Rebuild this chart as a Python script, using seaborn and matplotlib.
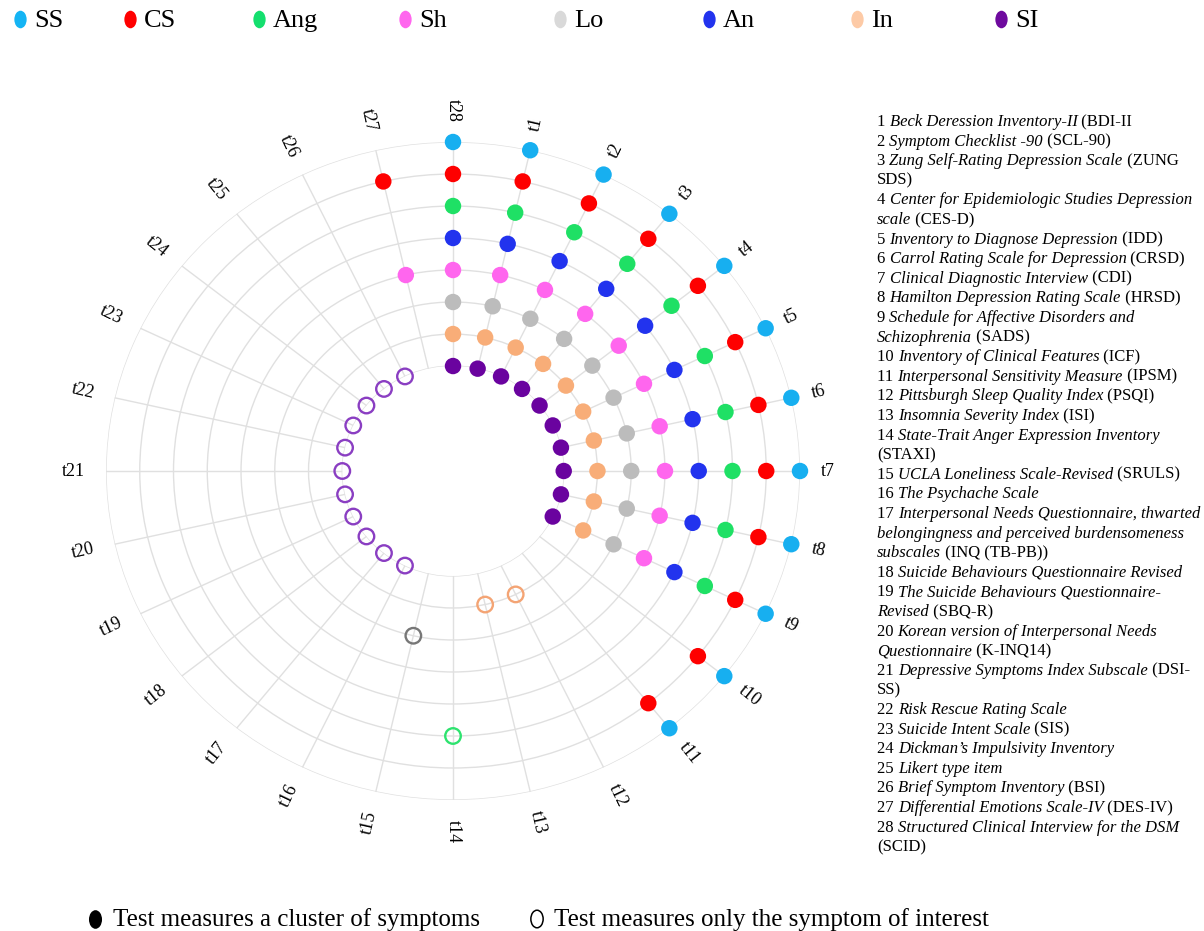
import numpy as np
import pandas as pd
import matplotlib
matplotlib.use('Agg')
import matplotlib.pyplot as plt
import seaborn as sns
from matplotlib.markers import MarkerStyle
from matplotlib.transforms import Affine2D

# ---- data ----
# symptom rings, inner -> outer (radius 1..8)
rings = ['SI', 'In', 'Lo', 'Sh', 'An', 'Ang', 'CS', 'SS']
legend_order = ['SS', 'CS', 'Ang', 'Sh', 'Lo', 'An', 'In', 'SI']

tests = ['t%d' % i for i in range(1, 29)]

# tests measuring a cluster of symptoms (filled dots)
all_eight_tests = ['t28', 't1', 't2', 't3', 't4', 't5', 't6', 't7', 't8', 't9']
ss_cs_tests = ['t10', 't11']
ss_cs_syms = ['SS', 'CS']
t27_syms = ['CS', 'Sh']

# tests measuring only the symptom of interest (open dots)
single_tests = ['t12', 't13', 't14', 't15', 't16', 't17', 't18', 't19', 't20',
                't21', 't22', 't23', 't24', 't25', 't26']
single_syms = ['In', 'In', 'Ang', 'Lo', 'SI', 'SI', 'SI', 'SI', 'SI',
               'SI', 'SI', 'SI', 'SI', 'SI', 'SI']

dot_colors = {'SS': '#17aff0', 'CS': '#fe0000', 'Ang': '#1fe065', 'An': '#2233ee',
              'Sh': '#ff66ee', 'Lo': '#bcbcbc', 'In': '#f8ad78', 'SI': '#6a039f'}
open_colors = {'Ang': '#2ee36f', 'Lo': '#777777', 'In': '#f4a474', 'SI': '#8a3ec2'}
legend_colors = {'SS': '#14b4f4', 'CS': '#ff0000', 'Ang': '#14df6e', 'Sh': '#ff66ee',
                 'Lo': '#d9d9d9', 'An': '#2233ee', 'In': '#fdcaa6', 'SI': '#6e0a9e'}
legend_x = [20, 130, 259, 405, 560, 709, 857, 1001]

measures = [
    "1 *Beck Deression Inventory-II* (BDI-II",
    "2 *Symptom Checklist -90* (SCL-90)",
    "3 *Zung Self-Rating Depression Scale* (ZUNG",
    "SDS)",
    "4 *Center for Epidemiologic Studies Depression*",
    "*scale* (CES-D)",
    "5 *Inventory to Diagnose Depression* (IDD)",
    "6 *Carrol Rating Scale for Depression* (CRSD)",
    "7 *Clinical Diagnostic Interview* (CDI)",
    "8 *Hamilton Depression Rating Scale* (HRSD)",
    "9 *Schedule for Affective Disorders and*",
    "*Schizophrenia* (SADS)",
    "10 *Inventory of Clinical Features* (ICF)",
    "11 *Interpersonal Sensitivity Measure* (IPSM)",
    "12 *Pittsburgh Sleep Quality Index* (PSQI)",
    "13 *Insomnia Severity Index* (ISI)",
    "14 *State-Trait Anger Expression Inventory*",
    "(STAXI)",
    "15 *UCLA Loneliness Scale-Revised* (SRULS)",
    "16 *The Psychache Scale*",
    "17 *Interpersonal Needs Questionnaire, thwarted*",
    "*belongingness and perceived burdensomeness*",
    "*subscales* (INQ (TB-PB))",
    "18 *Suicide Behaviours Questionnaire Revised*",
    "19 *The Suicide Behaviours Questionnaire-*",
    "*Revised* (SBQ-R)",
    "20 *Korean version of Interpersonal Needs*",
    "*Questionnaire* (K-INQ14)",
    "21 *Depressive Symptoms Index Subscale* (DSI-",
    "SS)",
    "22 *Risk Rescue Rating Scale*",
    "23 *Suicide Intent Scale* (SIS)",
    "24 *Dickman\u2019s Impulsivity Inventory*",
    "25 *Likert type item*",
    "26 *Brief Symptom Inventory* (BSI)",
    "27 *Differential Emotions Scale-IV* (DES-IV)",
    "28 *Structured Clinical Interview for the DSM*",
    "(SCID)",
]

# ---- tidy table ----
rows = []
for t in all_eight_tests:
    for s in rings:
        rows.append((t, s, 'cluster'))
for t in ss_cs_tests:
    for s in ss_cs_syms:
        rows.append((t, s, 'cluster'))
for s in t27_syms:
    rows.append(('t27', s, 'cluster'))
for t, s in zip(single_tests, single_syms):
    rows.append((t, s, 'single'))
df = pd.DataFrame(rows, columns=['test', 'sym', 'kind'])
step = 2 * np.pi / len(tests)
df['theta'] = df['test'].map(lambda t: (int(t[1:]) % 28) * step)
df['r'] = df['sym'].map(lambda s: rings.index(s) + 1)

# ---- figure ----
sns.set_style('white')
plt.rcParams['font.family'] = ['Liberation Serif', 'DejaVu Serif']
plt.rcParams['text.color'] = 'black'

W, H = 1204, 931
fig = plt.figure(figsize=(W / 100, H / 100), dpi=100)

cx, cy, rx, ry = 453, 471, 347, 329
ax = fig.add_axes([(cx - rx) / W, 1 - (cy + ry) / H, 2 * rx / W, 2 * ry / H],
                  projection='polar')
ax.set_theta_zero_location('N')
ax.set_theta_direction(-1)
ax.set_ylim(1, 8)
ax.set_rorigin(-2.28)
ax.set_yticks(range(1, 9))
ax.set_yticklabels([])
ax.set_xticks(np.arange(len(tests)) * step)
ax.set_xticklabels([])
ax.tick_params(length=0)
ax.grid(True, color='#e0e0e0', lw=1.0)
for sp in ax.spines.values():
    sp.set_color('none')
    sp.set_linewidth(0)
ax.set_axisbelow(True)
ax.set_aspect('auto')

filled = df[df['kind'] == 'cluster']
sns.scatterplot(data=filled, x='theta', y='r', hue='sym', palette=dot_colors,
                s=140, linewidth=0, legend=False, ax=ax, clip_on=False, zorder=3)
opened = df[df['kind'] == 'single']
for sym, grp in opened.groupby('sym'):
    ax.scatter(grp['theta'], grp['r'], s=125, facecolors='none',
               edgecolors=open_colors[sym], linewidths=1.7, zorder=3, clip_on=False)
ax.set_xlabel('')
ax.set_ylabel('')

for i, t in enumerate(tests):
    deg = (i + 1) * 360 / len(tests)
    if deg <= 180:
        rot, ha = 90 - deg, 'left'
    else:
        rot, ha = 270 - deg, 'right'
    ax.text(np.deg2rad(deg), 8.62, t, rotation=rot, rotation_mode='anchor',
            ha=ha, va='center', fontsize=13, color='black', clip_on=False)

# overlay in pixel coordinates for legends and the measure list
lax = fig.add_axes([0, 0, 1, 1], zorder=-1)
lax.set_xlim(0, W)
lax.set_ylim(H, 0)
lax.axis('off')

oval = MarkerStyle('o', transform=Affine2D().scale(0.7, 1.0))
for name, x in zip(legend_order, legend_x):
    lax.scatter([x], [19], marker=oval, s=160, color=legend_colors[name], linewidths=0)
    lax.text(x + 14, 21, name, fontsize=19, va='center', ha='left')

lax.scatter([95], [919], marker=oval, s=180, color='black', linewidths=0)
lax.text(113, 920, 'Test measures a cluster of symptoms', fontsize=18,
         va='center', ha='left')
lax.scatter([537], [919], marker=oval, s=160, facecolors='none', edgecolors='black',
            linewidths=1.1)
lax.text(554, 920, 'Test measures only the symptom of interest', fontsize=18,
         va='center', ha='left')

y0, dy = 122, 19.6
for k, line in enumerate(measures):
    parts = line.split('*')
    prev = None
    for j, seg in enumerate(parts):
        if seg == '':
            continue
        style = 'italic' if j % 2 == 1 else 'normal'
        if prev is None:
            prev = lax.text(877, y0 + k * dy, seg, fontsize=12, style=style,
                            va='center', ha='left')
        else:
            prev = lax.annotate(seg, xy=(1, 0), xycoords=prev, fontsize=12,
                                style=style, va='bottom', ha='left')

fig.savefig('out.png', dpi=100)
